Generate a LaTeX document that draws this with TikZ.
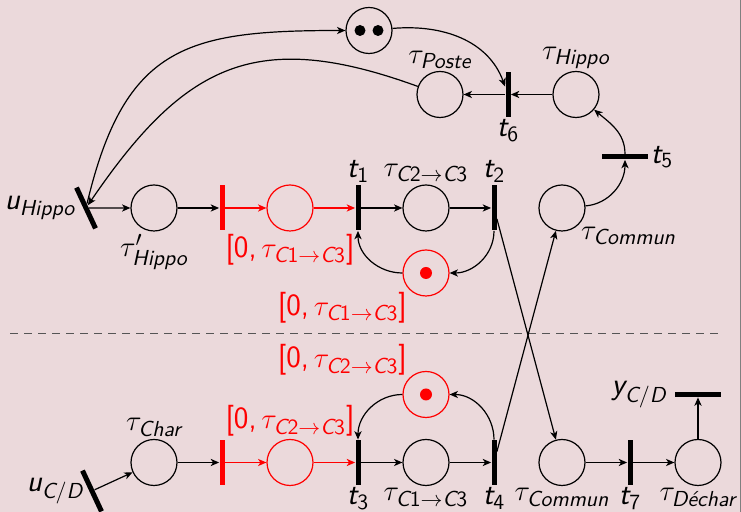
\documentclass[tikz,border=0pt]{standalone}
\usepackage{amsmath}
\usetikzlibrary{arrows.meta, positioning}
\definecolor{SlideBg}{RGB}{235, 217, 219}
\definecolor{NetRed}{RGB}{255, 0, 0}
\definecolor{DashGray}{RGB}{85, 85, 85}
\newcommand{\ssi}[1]{\text{\sffamily\itshape #1}}
\newcommand{\ssu}[1]{\text{\sffamily #1}}
\newcommand{\cc}[2]{\ssi{C}\ssu{#1}\to\ssi{C}\ssu{#2}}

\begin{document}
\begin{tikzpicture}[
    font=\fontsize{15.5}{18}\selectfont,
    node distance=34pt, on grid,
    place/.style={circle, draw=black, line width=0.6pt, minimum size=23pt, inner sep=0pt},
    redplace/.style={place, draw=NetRed},
    trans/.style={rectangle, fill=black, minimum width=2.5pt, minimum height=22.5pt, inner sep=0pt},
    redtrans/.style={trans, fill=NetRed},
    htrans/.style={trans, minimum width=23pt, minimum height=2.5pt},
    arrow/.style={->, >={Stealth[length=4.2pt, width=3.6pt, inset=1.2pt]}, line width=0.6pt},
    redarrow/.style={arrow, draw=NetRed},
    every label/.style={inner sep=1pt}
]
    % Slide background
    \fill [SlideBg] (0,0) rectangle (370.5pt,-256pt);
    \useasboundingbox (0,0) rectangle (370.5pt,-256pt);
    \draw [gray, line width=0.5pt] (370.2pt,0) -- (370.2pt,-256pt);

    % Upper net
    \node (pH1) [place, label={below:$\tau'_{\ssi{Hippo}}$}] at (77pt,-104pt) {};
    \node (uH) [trans, rotate=25, left=of pH1] {};
    \node (uHlbl) [left=23pt of uH] {$\ssi{u}_{\ssi{Hippo}}$};
    \node (rt1) [redtrans, right=of pH1] {};
    \node (rp1) [redplace, right=of rt1, label={[text=NetRed]below:$\ssu{[0,}\,\tau_{\cc13}\ssu{]}$}] {};
    \node (t1) [trans, right=of rp1, label={above:$\ssi{t}_{\ssu{1}}$}] {};
    \node (pC23) [place, right=of t1, label={above:$\tau_{\cc23}$}] {};
    \node (t2) [trans, right=of pC23, label={above:$\ssi{t}_{\ssu{2}}$}] {};
    \node (pCom1) [place, right=of t2, label={below right:$\tau_{\ssi{Commun}}$}] {};
    \node (rTok1) [redplace, below=32.5pt of pC23, label={[text=NetRed]below left:$\ssu{[0,}\,\tau_{\cc13}\ssu{]}$}] {};

    % Return loop
    \node (t5) [htrans, above right=25.5pt and 31.5pt of pCom1, label={right:$\ssi{t}_{\ssu{5}}$}] {};
    \node (pHippo) [place, above left=31.25pt and 24.5pt of t5, label={above:$\tau_{\ssi{Hippo}}$}] {};
    \node (t6) [trans, left=of pHippo, label={below:$\ssi{t}_{\ssu{6}}$}] {};
    \node (pPoste) [place, left=of t6, label={above:$\tau_{\ssi{Poste}}$}] {};
    \node (pTok) [place, above left=32pt and 35.5pt of pPoste] {};

    % Lower net
    \node (pChar) [place, below=127.25pt of pH1, label={above:$\tau_{\ssi{Char}}$}] {};
    \node (uCD) [trans, rotate=25, below left=14.25pt and 31pt of pChar] {};
    \node (uCDlbl) [left=18.5pt of uCD] {$\ssi{u}_{\ssi{C}/\ssi{D}}$};
    \node (rt2) [redtrans, right=of pChar] {};
    \node (rp2) [redplace, right=of rt2, label={[text=NetRed]above:$\ssu{[0,}\,\tau_{\cc23}\ssu{]}$}] {};
    \node (t3) [trans, right=of rp2, label={below:$\ssi{t}_{\ssu{3}}$}] {};
    \node (pC13) [place, right=of t3, label={below:$\tau_{\cc13}$}] {};
    \node (t4) [trans, right=of pC13, label={below:$\ssi{t}_{\ssu{4}}$}] {};
    \node (pCom2) [place, right=of t4, label={below:$\tau_{\ssi{Commun}}$}] {};
    \node (t7) [trans, right=of pCom2, label={below:$\ssi{t}_{\ssu{7}}$}] {};
    \node (pDech) [place, right=of t7, label={below:$\tau_{\ssi{Déchar}}$}] {};
    \node (yCD) [htrans, above=34pt of pDech] {};
    \node (yCDlbl) [left=29.5pt of yCD] {$\ssi{y}_{\ssi{C}/\ssi{D}}$};
    \node (rTok2) [redplace, above=34pt of pC13, label={[text=NetRed]above left:$\ssu{[0,}\,\tau_{\cc23}\ssu{]}$}] {};

    % Tokens
    \fill [NetRed] (rTok1) circle (3pt);
    \fill [NetRed] (rTok2) circle (3pt);
    \fill ([xshift=-4.5pt]pTok.center) circle (2.75pt);
    \fill ([xshift=4.5pt]pTok.center) circle (2.75pt);

    % Separation between the two nets
    \coordinate (sepL) at (5pt,-167pt);
    \coordinate (sepR) at (360pt,-167pt);
    \draw [DashGray, line width=0.5pt, dash pattern=on 4pt off 3pt] (sepL) -- (sepR);

    % Upper arcs
    \draw [arrow] (uH) -- (pH1);
    \draw [arrow] (pH1) -- (rt1);
    \draw [redarrow] (rt1) -- (rp1);
    \draw [redarrow] (rp1) -- (t1);
    \draw [arrow] (t1) -- (pC23);
    \draw [arrow] (pC23) -- (t2);
    \draw [arrow] (t2) to[out=-90, in=0] (rTok1);
    \draw [arrow] (rTok1) to[out=180, in=-90] (t1);
    \draw [arrow] (pCom1) to[out=5, in=-90] (t5);
    \draw [arrow] (t5) to[out=90, in=-40] (pHippo);
    \draw [arrow] (pHippo) -- (t6);
    \draw [arrow] (t6) -- (pPoste);
    \draw [arrow] (pPoste) to[out=160, in=55, looseness=1.25] (uH);
    \draw [arrow] (uH) to[out=75, in=180, looseness=1.3] (pTok);
    \draw [arrow] (pTok) to[out=5, in=110] (t6);

    % Crossing arcs
    \draw [arrow] (t2) -- (pCom2);
    \draw [arrow] (t4) -- (pCom1);

    % Lower arcs
    \draw [arrow] (uCD) -- (pChar);
    \draw [arrow] (pChar) -- (rt2);
    \draw [redarrow] (rt2) -- (rp2);
    \draw [redarrow] (rp2) -- (t3);
    \draw [arrow] (t3) -- (pC13);
    \draw [arrow] (pC13) -- (t4);
    \draw [arrow] (t4) to[out=90, in=0] (rTok2);
    \draw [arrow] (rTok2) to[out=180, in=90] (t3);
    \draw [arrow] (pCom2) -- (t7);
    \draw [arrow] (t7) -- (pDech);
    \draw [arrow] (pDech) -- (yCD);

\end{tikzpicture}
\end{document}
